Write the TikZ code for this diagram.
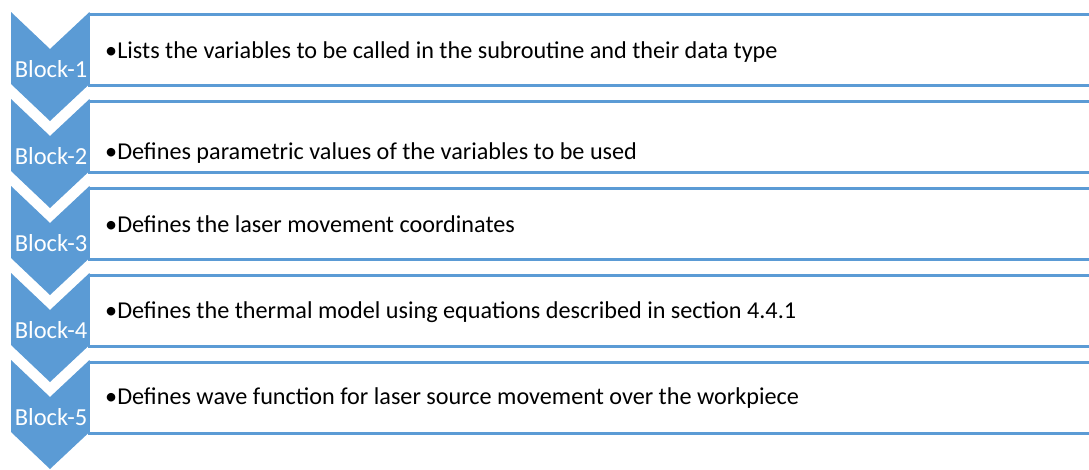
\documentclass[tikz,border=0pt]{standalone}
\usepackage{fontspec}
\setmainfont{Carlito}
\definecolor{chevblue}{HTML}{5B9BD5}
\begin{document}
\begin{tikzpicture}[x=1pt,y=-1pt,
  chevron/.style={fill=chevblue, draw=none},
  panel/.style={draw=chevblue, line width=2.6pt, fill=white},
  blocklabel/.style={text=white, inner sep=0pt, anchor=base,
    font=\fontsize{24.5}{28}\selectfont},
  itemtext/.style={text=black, inner sep=0pt, anchor=base west,
    font=\fontsize{24.2}{28}\selectfont}]
\useasboundingbox (0,0) rectangle (1089,469);

% white panels with blue top and bottom rules
\foreach \k in {0,...,4}{
  \draw[panel] (89,{14.5+87*\k}) rectangle (1110,{85.5+87*\k});
}

% chevrons with their labels
\foreach \k in {0,...,4}{
  \pgfmathsetmacro{\yt}{12+87*\k}
  \fill[chevron] (11,\yt) -- (50,\yt+37) -- (89.5,\yt) -- (89.5,\yt+72)
    -- (50,\yt+109) -- (11,\yt+72) -- cycle;
  \pgfmathtruncatemacro{\n}{\k+1}
  \node[blocklabel] (block\n) at (51,{77+87*\k}) {Block-\n};
}

% descriptions
\node[itemtext] (item1) at (105,58)  {•Lists the variables to be called in the subroutine and their data type};
\node[itemtext] (item2) at (105,159) {•Defines parametric values of the variables to be used};
\node[itemtext] (item3) at (105,232) {•Defines the laser movement coordinates};
\node[itemtext] (item4) at (105,318) {•Defines the thermal model using equations described in section 4.4.1};
\node[itemtext] (item5) at (105,404) {•Defines wave function for laser source movement over the workpiece};
\end{tikzpicture}
\end{document}
